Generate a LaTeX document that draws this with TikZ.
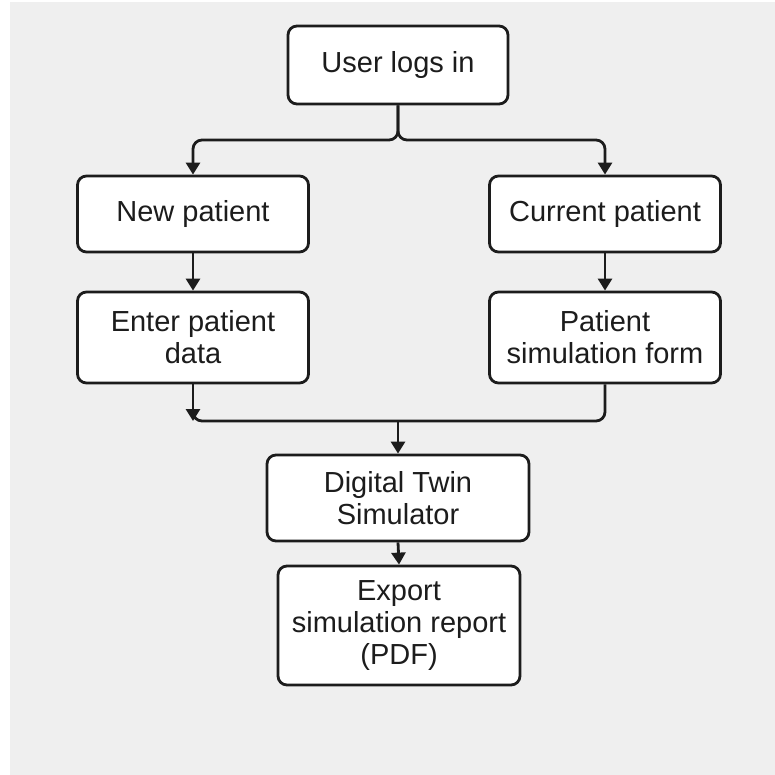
\documentclass[tikz,border=0pt]{standalone}
\usepackage{fontspec}
\setmainfont{Liberation Sans}
\usetikzlibrary{arrows.meta}
\definecolor{bggray}{HTML}{EFEFEF}
\definecolor{ink}{HTML}{1C1C1C}
\tikzset{
  flowbox/.style={draw=ink, fill=white, line width=2.8pt, rounded corners=9pt,
    align=center, inner sep=0pt, text=ink,
    font=\fontsize{29}{32}\selectfont},
  link/.style={draw=ink, line width=2.8pt},
  arrowlink/.style={link, -{Triangle[length=12pt,width=14pt]}},
}
\begin{document}
\begin{tikzpicture}[x=1pt, y=-1pt]
  % page and backdrop
  \fill[white] (0,0) rectangle (775,775);
  \fill[bggray] (10,2) rectangle (775,775);
  \useasboundingbox (0,0) rectangle (775,775);

  % steps
  \node[flowbox, minimum width=220pt, minimum height=78pt] (user) at (398,65) {User logs in};
  \node[flowbox, minimum width=231pt, minimum height=76pt] (newp) at (193,214) {New patient};
  \node[flowbox, minimum width=231pt, minimum height=76pt] (curp) at (605,214) {Current patient};
  \node[flowbox, minimum width=231pt, minimum height=91pt] (enter) at (193,337.5) {Enter patient\\data};
  \node[flowbox, minimum width=231pt, minimum height=91pt] (form) at (605,337.5) {Patient\\simulation form};
  \node[flowbox, minimum width=262pt, minimum height=86pt] (twin) at (398,498) {Digital Twin\\Simulator};
  \node[flowbox, minimum width=242pt, minimum height=119pt] (export) at (399,625.5) {Export\\simulation report\\(PDF)};

  % junction points
  \coordinate (split) at (398,140);
  \coordinate (merge) at (398,421);

  % branch after login
  \draw[arrowlink, rounded corners=9pt] (user.south) -- (split) -| (newp.north);
  \draw[arrowlink, rounded corners=9pt] (user.south) -- (split) -| (curp.north);

  % straight steps down each branch
  \draw[arrowlink] (newp.south) -- (enter.north);
  \draw[arrowlink] (curp.south) -- (form.north);

  % branches rejoin
  \draw[link, rounded corners=9pt] (form.south) |- (merge -| enter.south) -- ++(0,-10);
  \draw[arrowlink] (enter.south) -- (merge -| enter.south);
  \draw[arrowlink] (merge) -- (twin.north);
  \draw[arrowlink] (twin.south) -- (export.north);
\end{tikzpicture}
\end{document}
